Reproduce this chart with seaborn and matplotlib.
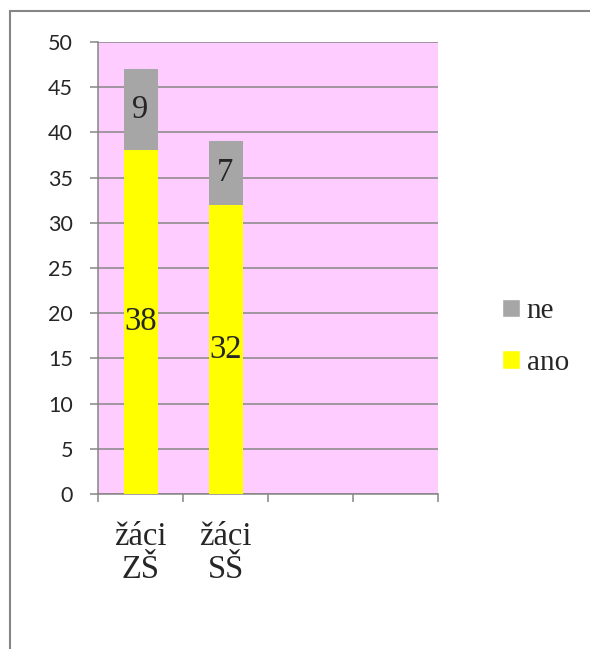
import matplotlib
matplotlib.use('Agg')
import matplotlib.pyplot as plt
import pandas as pd
import seaborn as sns
from matplotlib.patches import Patch
from matplotlib.lines import Line2D

# data
categories = ['žáci\nZŠ', 'žáci\nSŠ']
slots = categories + ['_c3', '_c4']   # two empty category slots in the original
ano = [38, 32]
ne = [9, 7]

pink = '#FFCCFF'
yellow = '#FFFF00'
grey = '#A6A6A6'
line_grey = '#868686'

df = pd.DataFrame({'kategorie': categories, 'ano': ano, 'ne': ne})
df['celkem'] = df['ano'] + df['ne']

sns.set_style('white')
plt.rcParams['font.family'] = ['Liberation Serif', 'DejaVu Serif']

fig = plt.figure(figsize=(5.9, 6.49), dpi=100)
ax = fig.add_axes([98 / 590, 1 - 494 / 649, 340 / 590, 452 / 649])
ax.set_facecolor(pink)

# stacked bars: total in grey, "ano" in yellow over it
sns.barplot(data=df, x='kategorie', y='celkem', order=slots, color=grey,
            width=0.4, saturation=1, linewidth=0, ax=ax, zorder=3)
sns.barplot(data=df, x='kategorie', y='ano', order=slots, color=yellow,
            width=0.4, saturation=1, linewidth=0, ax=ax, zorder=3)

# value labels
for i in range(len(categories)):
    ax.text(i, ano[i] / 2, str(ano[i]), ha='center', va='center', fontsize=23.5, zorder=4)
    ax.text(i, ano[i] + ne[i] / 2, str(ne[i]), ha='center', va='center', fontsize=23.5, zorder=4)

ax.set_xlim(-0.5, 3.5)
ax.set_ylim(0, 50)
ax.set_yticks(range(0, 51, 5))
ax.yaxis.grid(True, color=line_grey, linewidth=1.1, zorder=0)
ax.set_axisbelow(True)
ax.tick_params(axis='y', length=6, width=1.1, color=line_grey, pad=12, labelsize=15.5, left=True)
for lab in ax.get_yticklabels():
    lab.set_family(['Lato', 'DejaVu Sans'])

# category labels at slot centres, tick marks at slot boundaries
ax.set_xticks(range(4))
ax.set_xticklabels(categories + ['', ''], fontsize=23.5, linespacing=1.1)
ax.tick_params(axis='x', which='major', length=0, pad=20)
ax.set_xticks([-0.5, 0.5, 1.5, 2.5, 3.5], minor=True)
ax.tick_params(axis='x', which='minor', length=6, width=1.1, color=line_grey, bottom=True)
ax.set_xlabel('')
ax.set_ylabel('')

for side in ['top', 'right']:
    ax.spines[side].set_visible(False)
for side in ['left', 'bottom']:
    ax.spines[side].set_color(line_grey)
    ax.spines[side].set_linewidth(1.1)

# legend
handles = [Patch(facecolor=grey, label='ne'), Patch(facecolor=yellow, label='ano')]
fig.legend(handles=handles, loc='center left', bbox_to_anchor=(502 / 590, 1 - 337 / 649),
           frameon=False, fontsize=21, handlelength=0.6, handleheight=0.6,
           handletextpad=0.25, labelspacing=0.88, borderpad=0, borderaxespad=0)

# chart area border (left and top edges visible)
fig.add_artist(Line2D([10 / 590, 10 / 590], [0, 1 - 11 / 649], color=line_grey, linewidth=1.5))
fig.add_artist(Line2D([10 / 590, 1], [1 - 11 / 649, 1 - 11 / 649], color=line_grey, linewidth=1.5))

fig.savefig('out.png', dpi=100)
